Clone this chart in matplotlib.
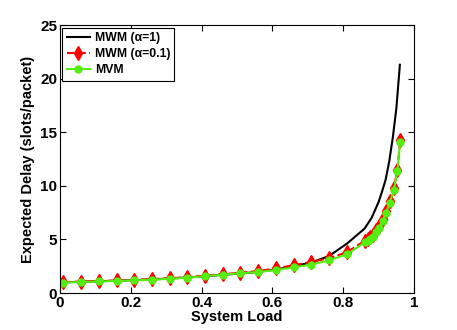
import matplotlib
matplotlib.use('Agg')
import matplotlib.pyplot as plt

plt.rcParams['font.family'] = ['Liberation Sans', 'DejaVu Sans']
plt.rcParams['font.weight'] = 'bold'

# system load values
load_low = [0.01, 0.06, 0.11, 0.16, 0.21, 0.26, 0.31, 0.36, 0.41,
            0.46, 0.51, 0.56, 0.61, 0.66, 0.71, 0.76, 0.81]
load_high = [0.862, 0.869, 0.876, 0.883, 0.892, 0.901, 0.911, 0.921,
             0.931, 0.943, 0.953, 0.961]
load_mwm1_high = [0.86, 0.88, 0.90, 0.91, 0.92, 0.93, 0.94, 0.95, 0.96]

# expected delay (slots/packet)
mwm1_low = [1.0, 1.05, 1.1, 1.15, 1.2, 1.27, 1.35, 1.45, 1.57,
            1.7, 1.82, 1.97, 2.2, 2.5, 2.85, 3.45, 4.6]
mwm1_high = [6.0, 7.0, 8.5, 9.5, 10.6, 12.3, 14.5, 17.2, 21.3]

mwm01_low = [1.02, 1.07, 1.12, 1.17, 1.23, 1.3, 1.38, 1.48, 1.62,
             1.76, 1.9, 2.05, 2.3, 2.6, 2.9, 3.24, 3.8]
mwm01_high = [4.9, 5.05, 5.2, 5.45, 5.85, 6.3, 6.9, 7.7, 8.6, 9.8, 11.5, 14.3]

mvm_low = [0.98, 1.03, 1.08, 1.13, 1.18, 1.25, 1.33, 1.43, 1.57,
           1.72, 1.84, 1.96, 2.15, 2.4, 2.65, 3.05, 3.6]
mvm_high = [4.75, 4.85, 5.0, 5.25, 5.66, 6.1, 6.7, 7.5, 8.4, 9.6, 11.4, 14.1]

fig = plt.figure(figsize=(4.57, 3.3), dpi=100)
ax = fig.add_axes([0.131, 0.112, 0.775, 0.812])

ax.plot(load_low + load_mwm1_high, mwm1_low + mwm1_high, color='black',
        linewidth=1.5, label='MWM (α=1)')
ax.plot(load_low + load_high, mwm01_low + mwm01_high, color='red',
        linestyle='--', linewidth=1.5, marker='d', markersize=7.5,
        label='MWM (α=0.1)')
ax.plot(load_low + load_high, mvm_low + mvm_high, color='#55ee11',
        linewidth=1.5, marker='o', markersize=5, label='MVM')

ax.set_xlim(0, 1)
ax.set_ylim(0, 25)
ax.set_xticks([0, 0.2, 0.4, 0.6, 0.8, 1])
ax.set_xticklabels(['0', '0.2', '0.4', '0.6', '0.8', '1'])
ax.set_yticks([0, 5, 10, 15, 20, 25])
ax.tick_params(direction='in', top=True, right=True, labelsize=11, length=4, pad=2)
for lbl in ax.get_xticklabels() + ax.get_yticklabels():
    lbl.set_fontweight('bold')

ax.set_xlabel('System Load', fontsize=10.5, fontweight='bold', labelpad=0)
ax.set_ylabel('Expected Delay (slots/packet)', fontsize=10.5, fontweight='bold', labelpad=4)

leg = ax.legend(loc='upper left', fontsize=8.8, fancybox=False, framealpha=1,
                edgecolor='black', borderaxespad=0.2, handlelength=1.9,
                borderpad=0.35, labelspacing=0.35, handletextpad=0.4)
leg.get_frame().set_linewidth(0.8)
for t in leg.get_texts():
    t.set_fontweight('bold')

fig.savefig('out.png', dpi=100)
